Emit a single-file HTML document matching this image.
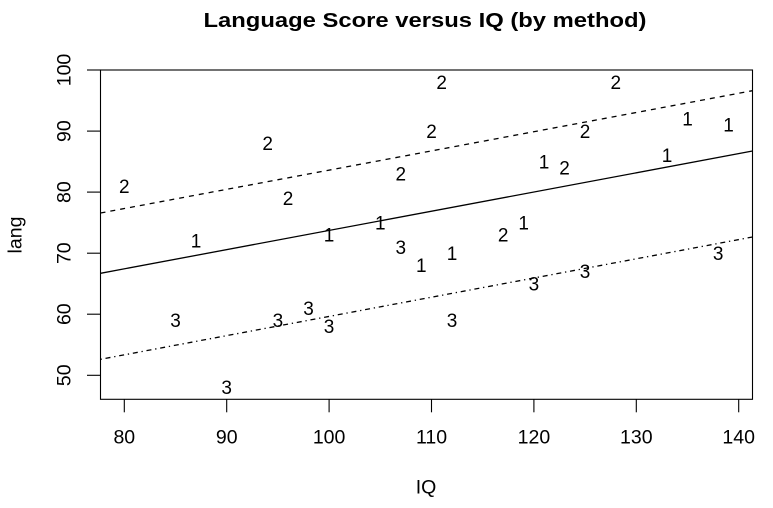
<!DOCTYPE html>
<html>
<head>
<meta charset="utf-8">
<style>
html,body{margin:0;padding:0;background:#fff;}
svg{display:block;}
text{font-family:"Liberation Sans",Arial,sans-serif;fill:#000;}
</style>
</head>
<body>
<svg width="773" height="508" viewBox="0 0 773 508" xmlns="http://www.w3.org/2000/svg">
<rect width="773" height="508" fill="#fff"/>
<!-- title -->
<text x="425" y="27" font-size="20.5" font-weight="bold" text-anchor="middle" textLength="443" lengthAdjust="spacingAndGlyphs">Language Score versus IQ (by method)</text>
<!-- box -->
<rect x="100.5" y="70" width="652" height="329.3" fill="none" stroke="#000" stroke-width="1.1"/>
<!-- x ticks -->
<g stroke="#000" stroke-width="1.1">
<line x1="124.3" y1="399.3" x2="124.3" y2="412.3"/>
<line x1="226.7" y1="399.3" x2="226.7" y2="412.3"/>
<line x1="329.1" y1="399.3" x2="329.1" y2="412.3"/>
<line x1="431.5" y1="399.3" x2="431.5" y2="412.3"/>
<line x1="533.9" y1="399.3" x2="533.9" y2="412.3"/>
<line x1="636.3" y1="399.3" x2="636.3" y2="412.3"/>
<line x1="738.7" y1="399.3" x2="738.7" y2="412.3"/>
<!-- y ticks -->
<line x1="87" y1="70" x2="100.5" y2="70"/>
<line x1="87" y1="131.1" x2="100.5" y2="131.1"/>
<line x1="87" y1="192.1" x2="100.5" y2="192.1"/>
<line x1="87" y1="253.2" x2="100.5" y2="253.2"/>
<line x1="87" y1="314.2" x2="100.5" y2="314.2"/>
<line x1="87" y1="375.3" x2="100.5" y2="375.3"/>
</g>
<g font-size="19.5" text-anchor="middle">
<text x="124.3" y="443.3">80</text>
<text x="226.7" y="443.3">90</text>
<text x="329.1" y="443.3">100</text>
<text x="431.5" y="443.3">110</text>
<text x="533.9" y="443.3">120</text>
<text x="636.3" y="443.3">130</text>
<text x="738.7" y="443.3">140</text>
<text transform="translate(70.5,70) rotate(-90)">100</text>
<text transform="translate(70.5,131.1) rotate(-90)">90</text>
<text transform="translate(70.5,192.1) rotate(-90)">80</text>
<text transform="translate(70.5,253.2) rotate(-90)">70</text>
<text transform="translate(70.5,314.2) rotate(-90)">60</text>
<text transform="translate(70.5,375.3) rotate(-90)">50</text>
<text x="426" y="493.5">IQ</text>
<text transform="translate(21.5,235) rotate(-90)">lang</text>
</g>
<!-- regression lines -->
<g stroke="#000" stroke-width="1.3" fill="none">
<line x1="100.5" y1="273.3" x2="752.5" y2="151"/>
<line x1="100.5" y1="213" x2="752.5" y2="90.7" stroke-dasharray="5,5"/>
<line x1="100.5" y1="359.3" x2="752.5" y2="237" stroke-dasharray="1.3,3.8,5,3.8"/>
</g>
<!-- points -->
<g font-size="19" text-anchor="middle">
<text x="124.3" y="192.8">2</text>
<text x="196" y="247.7">1</text>
<text x="267.7" y="150">2</text>
<text x="288.1" y="204.9">2</text>
<text x="175.5" y="327">3</text>
<text x="226.7" y="394.2">3</text>
<text x="277.9" y="327">3</text>
<text x="308.6" y="314.8">3</text>
<text x="329.1" y="333.2">3</text>
<text x="329.1" y="241.6">1</text>
<text x="380.3" y="229.4">1</text>
<text x="400.8" y="253.8">3</text>
<text x="400.8" y="180.5">2</text>
<text x="431.5" y="137.8">2</text>
<text x="441.7" y="88.9">2</text>
<text x="421.3" y="272.1">1</text>
<text x="452" y="259.9">1</text>
<text x="452" y="327">3</text>
<text x="503.2" y="241.6">2</text>
<text x="523.7" y="229.4">1</text>
<text x="533.9" y="290.4">3</text>
<text x="544.1" y="168.3">1</text>
<text x="564.6" y="174.4">2</text>
<text x="585.1" y="137.8">2</text>
<text x="585.1" y="278.2">3</text>
<text x="615.8" y="88.9">2</text>
<text x="667" y="162.2">1</text>
<text x="687.5" y="125.5">1</text>
<text x="728.5" y="131.7">1</text>
<text x="718.2" y="259.9">3</text>
</g>
</svg>
</body>
</html>
